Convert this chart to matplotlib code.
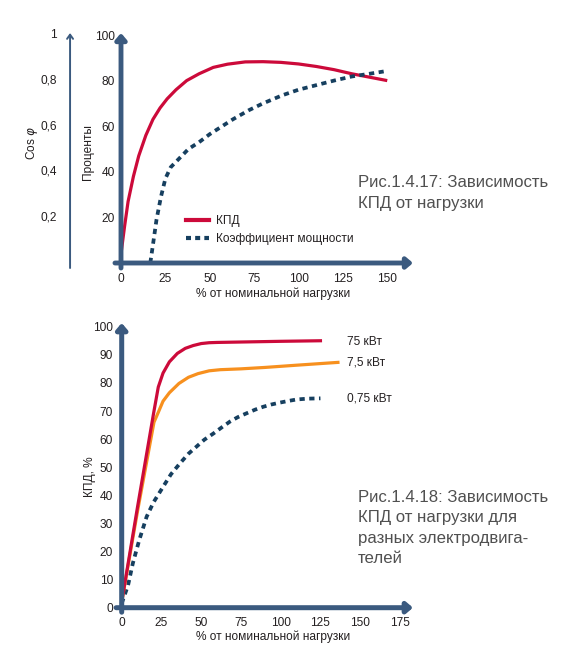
import matplotlib
matplotlib.use("Agg")
import matplotlib.pyplot as plt
from matplotlib.lines import Line2D

W, H = 561, 654

# --- Рис.1.4.17 ---
kpd_x = [0, 2, 4, 7, 10, 14, 18, 22, 26, 31, 37, 44, 52, 60, 70, 80, 90,
         100, 110, 120, 130, 140, 150]
kpd_y = [4, 16, 27, 38, 47, 56, 63, 68, 72, 76, 80, 83, 85.8, 87.2, 88.2,
         88.3, 88, 87.3, 86.2, 84.8, 83, 81.5, 80]
pf_x = [16.5, 18, 20, 22.5, 25, 28, 33, 38, 44, 50, 56, 63, 72, 80, 91,
        100, 110, 120, 130, 140, 148]
pf_y = [0, 8, 19, 29, 37, 42, 46, 50, 53, 56.5, 59.5, 63, 67, 70, 73.6,
        76, 78, 80, 81.8, 83, 84]
top_xticks = [0, 25, 50, 75, 100, 125, 150]
top_yticks = [20, 40, 60, 80, 100]
cos_ticks = [0.2, 0.4, 0.6, 0.8, 1]
cos_labels = ["0,2", "0,4", "0,6", "0,8", "1"]

# --- Рис.1.4.18 ---
kw75_x = [0, 10, 20, 23, 26, 30, 35, 40, 45, 50, 55, 60, 80, 100, 125]
kw75_y = [2, 36, 69, 78.5, 83.5, 87.5, 90.5, 92.3, 93.3, 94, 94.3, 94.4,
          94.6, 94.8, 95]
kw7_x = [0, 10, 20.3, 23, 26, 30, 36, 42, 48, 55, 62, 75, 90, 110, 136]
kw7_y = [2, 34.5, 66, 69.5, 73.5, 76.5, 79.8, 82, 83.3, 84.3, 84.7, 85,
         85.5, 86.3, 87.3]
kw075_x = [0, 4, 7, 11, 15.7, 20, 26, 31, 36.7, 42, 47, 52, 57.7, 63, 68,
           73, 78.6, 84, 89, 94, 99.6, 105, 110, 117, 125]
kw075_y = [1.5, 8, 15.8, 24, 32.4, 37.5, 43, 47.5, 51.4, 54.8, 57.3, 59.8,
           62, 64.2, 66.2, 67.8, 69.2, 70.5, 71.5, 72.3, 73, 73.6, 74.1,
           74.4, 74.5]
bot_xticks = [0, 25, 50, 75, 100, 125, 150, 175]
bot_yticks = list(range(0, 101, 10))

AXC = "#3b5a7f"
RED = "#cc0a3a"
NAVY = "#163f5f"
ORANGE = "#f7901e"
TXT = "#231f20"
CAP = "#505050"
FONT = ["Liberation Sans", "DejaVu Sans"]
HEAD = "-|>,head_length=0.42,head_width=0.36"

plt.rcParams["font.family"] = FONT
plt.rcParams["font.size"] = 8.6


def px_rect(l, t, r, b):
    return [l / W, (H - b) / H, (r - l) / W, (b - t) / H]


def arrow(ax, x0, y0, x1, y1, lw, style):
    ax.annotate("", xy=(x1, y1), xytext=(x0, y0),
                arrowprops=dict(arrowstyle=style, lw=lw, color=AXC,
                                shrinkA=0, shrinkB=0),
                annotation_clip=False)


fig = plt.figure(figsize=(W / 100, H / 100), dpi=100)

# top chart
ax1 = fig.add_axes(px_rect(121, 33, 413, 263))
ax1.set_xlim(0, 292 / 1.775)
ax1.set_ylim(0, 230 / 2.28)
for s in ax1.spines.values():
    s.set_visible(False)
ax1.patch.set_alpha(0)

ax1.plot(kpd_x, kpd_y, color=RED, lw=2.3, solid_capstyle="butt", clip_on=False)
ax1.plot(pf_x, pf_y, color=NAVY, lw=2.7, ls=(0, (1.4, 1.2)), clip_on=False)

arrow(ax1, -3.4, 0, 292 / 1.775, 0, 3.5, HEAD)
arrow(ax1, 0, -2.2, 0, 230 / 2.28, 3.5, HEAD)
arrow(ax1, -28.7, -2.2, -28.7, 230 / 2.28, 1.4, "->,head_length=0.35,head_width=0.25")

ax1.set_xticks(top_xticks)
ax1.set_yticks(top_yticks)
ax1.tick_params(length=0, colors=TXT, labelsize=8.6)
ax1.tick_params(axis="x", pad=7)
ax1.tick_params(axis="y", pad=4.3)
for v, lab in zip(cos_ticks, cos_labels):
    ax1.text(-36, v * 100, lab, ha="right", va="center", color=TXT,
             fontsize=8.6, clip_on=False)
ax1.text(-18.6, 48.7, "Проценты", rotation=90, ha="center", va="center",
         color=TXT, fontsize=8.6)
ax1.text(-50, 52.6, "Cos $\\varphi$", rotation=90, ha="center", va="center",
         color=TXT, fontsize=8.6)
fig.text(273 / W, 1 - 294 / H, "% от номинальной нагрузки", ha="center",
         va="center", color=TXT, fontsize=8.6)

handles = [Line2D([], [], color=RED, lw=3),
           Line2D([], [], color=NAVY, lw=3, ls=(0, (1.2, 1.0)))]
fig.legend(handles, ["КПД", "Коэффициент мощности"], loc="upper left",
           bbox_to_anchor=(186 / W, 1 - 215 / H), frameon=False,
           borderpad=0, borderaxespad=0, handlelength=1.9,
           handletextpad=0.6, labelspacing=0.5, fontsize=8.6,
           labelcolor=TXT)

fig.text(358 / W, 1 - 187 / H, "Рис.1.4.17: Зависимость", ha="left",
         va="baseline", color=CAP, fontsize=12.1)
fig.text(358 / W, 1 - 208.5 / H, "КПД от нагрузки", ha="left",
         va="baseline", color=CAP, fontsize=12.1)

# bottom chart
ax2 = fig.add_axes(px_rect(121.7, 323, 413, 607.7))
ax2.set_xlim(0, (413 - 121.7) / 1.59)
ax2.set_ylim(0, (607.7 - 323) / 2.81)
for s in ax2.spines.values():
    s.set_visible(False)
ax2.patch.set_alpha(0)

ax2.plot(kw075_x, kw075_y, color=NAVY, lw=2.7, ls=(0, (1.4, 1.2)), clip_on=False)
ax2.plot(kw7_x, kw7_y, color=ORANGE, lw=2.3, clip_on=False)
ax2.plot(kw75_x, kw75_y, color=RED, lw=2.3, clip_on=False)

arrow(ax2, -3.5, 0, (413 - 121.7) / 1.59, 0, 3.6, HEAD)
arrow(ax2, 0, -1.6, 0, (607.7 - 323) / 2.81, 3.6, HEAD)

ax2.set_xticks(bot_xticks)
ax2.set_yticks(bot_yticks)
ax2.tick_params(length=0, colors=TXT, labelsize=8.6)
ax2.tick_params(axis="x", pad=7)
ax2.tick_params(axis="y", pad=6.2)
ax2.text(-19.9, 46.5, "КПД, %", rotation=90, ha="center", va="center",
         color=TXT, fontsize=8.6)
fig.text(273 / W, 1 - 637 / H, "% от номинальной нагрузки", ha="center",
         va="center", color=TXT, fontsize=8.6)

ax2.text(141.7, 94.6, "75 кВт", ha="left", va="center", color=TXT, fontsize=8.6)
ax2.text(141.7, 87.1, "7,5 кВт", ha="left", va="center", color=TXT, fontsize=8.6)
ax2.text(141.7, 74.3, "0,75 кВт", ha="left", va="center", color=TXT, fontsize=8.6)

cap2 = ["Рис.1.4.18: Зависимость", "КПД от нагрузки для",
        "разных электродвига-", "телей"]
for i, line in enumerate(cap2):
    fig.text(358 / W, 1 - (502 + 20.3 * i) / H, line, ha="left",
             va="baseline", color=CAP, fontsize=12.1)

plt.savefig("out.png", dpi=100)
